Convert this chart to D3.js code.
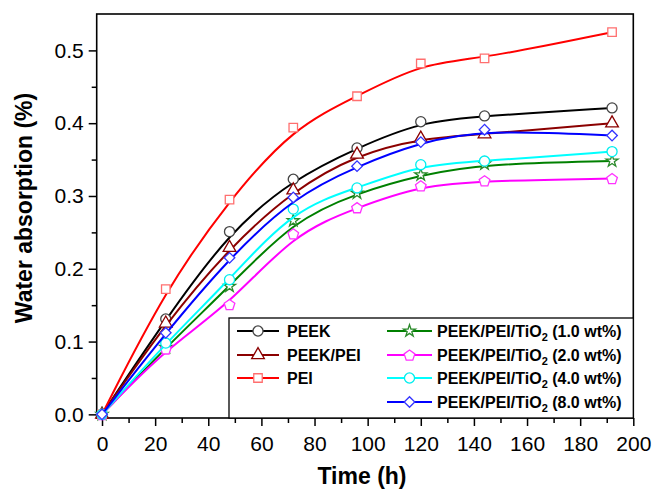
<!DOCTYPE html>
<html>
<head>
<meta charset="utf-8">
<script src="https://cdn.jsdelivr.net/npm/d3@7"></script>
<style>
  body { margin: 0; background: #fff; }
  svg { font-family: "Liberation Sans", Arial, sans-serif; }
</style>
</head>
<body>
<svg id="chart" width="655" height="490"></svg>
<script>
// time points (h)
const times = [0, 24, 48, 72, 96, 120, 144, 192];

// water absorption (%) per sample
const peek    = [0, 0.131, 0.251, 0.323, 0.366, 0.402, 0.410, 0.421];
const peekPei = [0, 0.125, 0.229, 0.308, 0.357, 0.379, 0.385, 0.400];
const pei     = [0, 0.172, 0.295, 0.394, 0.437, 0.482, 0.489, 0.525];
const tio1    = [0, 0.092, 0.176, 0.266, 0.304, 0.329, 0.344, 0.348];
const tio2    = [0, 0.090, 0.151, 0.248, 0.284, 0.314, 0.321, 0.324];
const tio4    = [0, 0.098, 0.185, 0.282, 0.311, 0.343, 0.348, 0.361];
const tio8    = [0, 0.112, 0.215, 0.298, 0.341, 0.374, 0.391, 0.383];

const xTicks = [0, 20, 40, 60, 80, 100, 120, 140, 160, 180, 200];
const yTicks = [0.0, 0.1, 0.2, 0.3, 0.4, 0.5];

// pentagon path, point up
function pentagon(r) {
  const pts = d3.range(5).map(i => {
    const a = -Math.PI / 2 + i * 2 * Math.PI / 5;
    return [r * Math.cos(a), r * Math.sin(a) + 0.6];
  });
  return 'M' + pts.map(p => p.join(',')).join('L') + 'Z';
}

const series = [
  {name: 'PEEK', vals: peek, line: '#000000', mk: '#444444', shape: d3.symbol(d3.symbolCircle, 80)(), col: 0, row: 0},
  {name: 'PEEK/PEI', vals: peekPei, line: '#8b0000', mk: '#8b0000', shape: d3.symbol(d3.symbolTriangle, 70)(), col: 0, row: 1},
  {name: 'PEI', vals: pei, line: '#ff0000', mk: '#ff6f6f', shape: d3.symbol(d3.symbolSquare, 72)(), col: 0, row: 2},
  {name: '(1.0 wt%)', vals: tio1, line: '#008000', mk: '#2a8a2a', shape: d3.symbol(d3.symbolStar, 45)(), col: 1, row: 0},
  {name: '(2.0 wt%)', vals: tio2, line: '#ff00ff', mk: '#ff33ff', shape: pentagon(5.6), col: 1, row: 1},
  {name: '(4.0 wt%)', vals: tio4, line: '#00ffff', mk: '#00eeee', shape: d3.symbol(d3.symbolCircle, 80)(), col: 1, row: 2},
  {name: '(8.0 wt%)', vals: tio8, line: '#0000ff', mk: '#3333ff', shape: d3.symbol(d3.symbolSquare, 56)(), rot: 45, col: 1, row: 3}
];

const svg = d3.select('#chart');
const pLeft = 96.7, pRight = 633.3, pTop = 14, pBottom = 418;

const x = d3.scaleLinear().domain([-2, 200]).range([pLeft, pRight]);
const y = d3.scaleLinear().domain([-0.005, 0.55]).range([pBottom, pTop]);

// minor ticks
svg.append('g')
  .attr('transform', `translate(0,${pBottom})`)
  .call(d3.axisBottom(x).tickValues(d3.range(10, 200, 20)).tickSize(5).tickSizeOuter(0).tickFormat(''))
  .call(g => g.select('.domain').remove());
svg.append('g')
  .attr('transform', `translate(${pLeft},0)`)
  .call(d3.axisLeft(y).tickValues(d3.range(0.05, 0.55, 0.1)).tickSize(5).tickSizeOuter(0).tickFormat(''))
  .call(g => g.select('.domain').remove());

// major ticks
const xAxis = svg.append('g')
  .attr('transform', `translate(0,${pBottom})`)
  .call(d3.axisBottom(x).tickValues(xTicks).tickSize(8).tickSizeOuter(0).tickPadding(10).tickFormat(d3.format('d')));
xAxis.select('.domain').remove();
xAxis.selectAll('text').attr('font-size', 21).attr('fill', '#000').attr('font-family', '"Liberation Sans", Arial, sans-serif');

const yAxis = svg.append('g')
  .attr('transform', `translate(${pLeft},0)`)
  .call(d3.axisLeft(y).tickValues(yTicks).tickSize(8).tickSizeOuter(0).tickPadding(5).tickFormat(d3.format('.1f')));
yAxis.select('.domain').remove();
yAxis.selectAll('text').attr('font-size', 21).attr('fill', '#000').attr('font-family', '"Liberation Sans", Arial, sans-serif');

svg.selectAll('.tick line').attr('stroke', '#000').attr('stroke-width', 1.5);

// plot frame
svg.append('rect')
  .attr('x', pLeft).attr('y', pTop)
  .attr('width', pRight - pLeft).attr('height', pBottom - pTop)
  .attr('fill', 'none').attr('stroke', '#000').attr('stroke-width', 1.6);

// series: smoothed b-spline through the measured points
const line = d3.line()
  .x((d, i) => x(times[i]))
  .y(d => y(d))
  .curve(d3.curveBasis);

series.forEach(s => {
  const g = svg.append('g');
  g.append('path')
    .attr('d', line(s.vals))
    .attr('fill', 'none')
    .attr('stroke', s.line)
    .attr('stroke-width', 2);
  g.selectAll('path.mk')
    .data(s.vals)
    .join('path')
    .attr('class', 'mk')
    .attr('d', s.shape)
    .attr('transform', (d, i) => `translate(${x(times[i])},${y(d)})` + (s.rot ? ` rotate(${s.rot})` : ''))
    .attr('fill', '#fff')
    .attr('stroke', s.mk)
    .attr('stroke-width', 1.3);
});

// legend
const lg = svg.append('g');
lg.append('rect')
  .attr('x', 229).attr('y', 318)
  .attr('width', pRight - 229).attr('height', pBottom - 318)
  .attr('fill', '#fff').attr('stroke', '#000').attr('stroke-width', 1.3);

const rowY = [331, 355, 378, 402];
const cols = [{x1: 237, x2: 279, tx: 287}, {x1: 387, x2: 432, tx: 437}];

series.forEach(s => {
  const c = cols[s.col], yy = rowY[s.row];
  const mx = (c.x1 + c.x2) / 2;
  lg.append('line')
    .attr('x1', c.x1).attr('x2', c.x2)
    .attr('y1', yy).attr('y2', yy)
    .attr('stroke', s.line).attr('stroke-width', 2);
  lg.append('path')
    .attr('d', s.shape)
    .attr('transform', `translate(${mx},${yy})` + (s.rot ? ` rotate(${s.rot})` : ''))
    .attr('fill', '#fff').attr('stroke', s.mk).attr('stroke-width', 1.3);
  const t = lg.append('text')
    .attr('x', c.tx).attr('y', yy + 6)
    .attr('font-size', 16).attr('font-weight', 'bold').attr('fill', '#000');
  if (s.col === 0) {
    t.text(s.name);
  } else {
    t.append('tspan').text('PEEK/PEI/TiO');
    t.append('tspan').attr('dy', 4).attr('font-size', 11).text('2');
    t.append('tspan').attr('dy', -4).text(' ' + s.name);
  }
});

// axis titles
svg.append('text')
  .attr('x', (pLeft + pRight) / 2 - 3).attr('y', 484)
  .attr('text-anchor', 'middle')
  .attr('font-size', 23).attr('font-weight', 'bold')
  .text('Time (h)');

svg.append('text')
  .attr('transform', `translate(32,208) rotate(-90)`)
  .attr('text-anchor', 'middle')
  .attr('font-size', 23).attr('font-weight', 'bold')
  .text('Water absorption (%)');
</script>
</body>
</html>
